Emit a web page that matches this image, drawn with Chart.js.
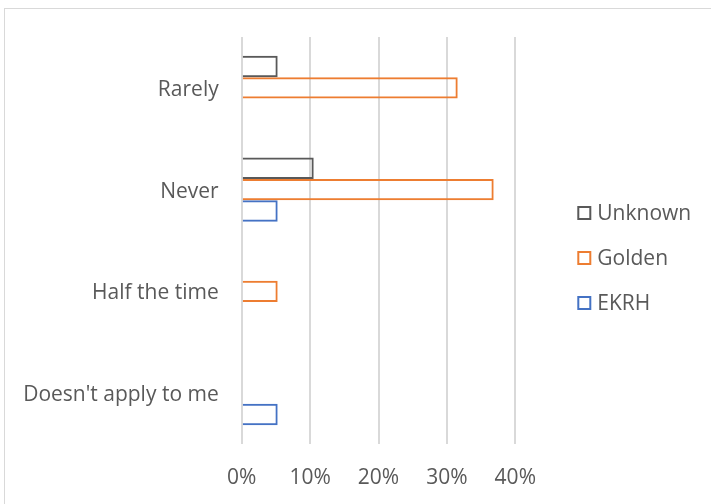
<!DOCTYPE html>
<html>
<head>
<meta charset="utf-8">
<title>Responses by site</title>
<script src="https://cdn.jsdelivr.net/npm/chart.js@4.4.1/dist/chart.umd.min.js"></script>
<style>
    body { margin: 0; background: #fff; }
    #wrap { position: relative; width: 711px; height: 504px; }
    #frame {
        position: absolute; left: 4px; top: 8px; right: 0; bottom: 0;
        border-top: 1px solid #d9d9d9; border-left: 1px solid #d9d9d9;
    }
    #chart { position: absolute; left: 0; top: 0; }
</style>
</head>
<body>
<div id="wrap">
    <div id="frame"></div>
    <canvas id="chart" width="711" height="504"></canvas>
</div>
<script>
const categories = ['Rarely', 'Never', 'Half the time', "Doesn't apply to me"];
const unknownValues = [5.26, 10.53, 0, 0];
const goldenValues = [31.58, 36.84, 5.26, 0];
const ekrhValues = [0, 5.26, 0, 5.26];
const xTicks = [0, 10, 20, 30, 40];

const textColor = '#595959';
const fontFamily = '"Open Sans", Calibri, sans-serif';

// legend on the right, drawn from the datasets
const sideLegend = {
    id: 'sideLegend',
    afterDraw(chart) {
        const ctx = chart.ctx;
        const x = chart.chartArea.right + 62;
        let y = 213;
        ctx.save();
        ctx.font = '21px ' + fontFamily;
        ctx.textBaseline = 'middle';
        ctx.fillStyle = textColor;
        chart.data.datasets.forEach(ds => {
            ctx.strokeStyle = ds.borderColor;
            ctx.lineWidth = 2;
            ctx.strokeRect(x + 1, y - 6, 12, 12);
            ctx.fillText(ds.label, x + 20, y + 1);
            y += 45;
        });
        ctx.restore();
    }
};

function makeChart() {
    const ctx = document.getElementById('chart').getContext('2d');
    new Chart(ctx, {
        type: 'bar',
        data: {
            labels: categories,
            datasets: [
                {
                    label: 'Unknown',
                    data: unknownValues,
                    borderColor: '#595959',
                    backgroundColor: 'rgba(255,255,255,0)',
                    borderWidth: 2
                },
                {
                    label: 'Golden',
                    data: goldenValues,
                    borderColor: '#ed7d31',
                    backgroundColor: 'rgba(255,255,255,0)',
                    borderWidth: 2
                },
                {
                    label: 'EKRH',
                    data: ekrhValues,
                    borderColor: '#4472c4',
                    backgroundColor: 'rgba(255,255,255,0)',
                    borderWidth: 2
                }
            ]
        },
        options: {
            indexAxis: 'y',
            responsive: false,
            animation: false,
            categoryPercentage: 0.63,
            barPercentage: 1.0,
            layout: {
                padding: { left: 0, right: 195.7, top: 37, bottom: 0 }
            },
            plugins: {
                legend: { display: false },
                tooltip: { enabled: false }
            },
            scales: {
                x: {
                    min: 0,
                    max: 40,
                    afterBuildTicks(scale) {
                        scale.ticks = xTicks.map(v => ({ value: v }));
                    },
                    afterFit(scale) { scale.height = 60; },
                    grid: { color: '#d9d9d9', lineWidth: 2, drawTicks: false },
                    border: { display: false },
                    ticks: {
                        padding: 21.5,
                        color: textColor,
                        font: { family: fontFamily, size: 21 },
                        callback: v => v + '%'
                    }
                },
                y: {
                    afterFit(scale) { scale.width = 241.7; },
                    grid: { display: false, drawTicks: false },
                    border: { display: false },
                    ticks: {
                        padding: 23,
                        labelOffset: 2,
                        color: textColor,
                        font: { family: fontFamily, size: 21 }
                    }
                }
            }
        },
        plugins: [sideLegend]
    });
}

makeChart();
</script>
</body>
</html>
